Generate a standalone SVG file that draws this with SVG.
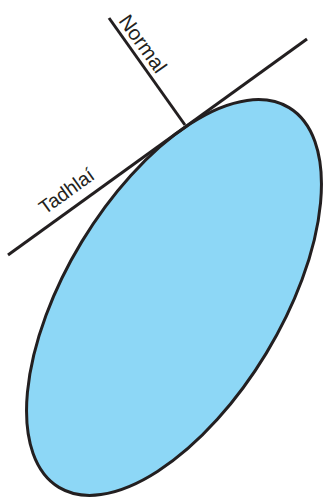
<svg xmlns="http://www.w3.org/2000/svg" width="325" height="498" viewBox="0 0 325 498">
<style>
.ln{stroke:#231f20;stroke-width:3;fill:none;stroke-linecap:butt}
.lbl{font-family:"Liberation Sans",Arial,sans-serif;fill:#231f20}
</style>
<g id="ellipse">
<ellipse cx="174" cy="297.5" rx="222" ry="107.8" transform="rotate(-58.78 174 297.5)" fill="#8dd7f6" stroke="#231f20" stroke-width="3"/>
</g>
<g id="connectors">
<line class="ln" x1="8" y1="255" x2="307" y2="39"/>
<line class="ln" x1="109" y1="18" x2="185" y2="125"/>
</g>
<g id="normal-label">
<text class="lbl" font-size="20.5" transform="translate(118,21) rotate(54.4)">Normal</text>
</g>
<g id="tangent-label">
<text class="lbl" font-size="19.5" transform="translate(45,215) rotate(-35.9)">Tadhlaí</text>
</g>
</svg>
